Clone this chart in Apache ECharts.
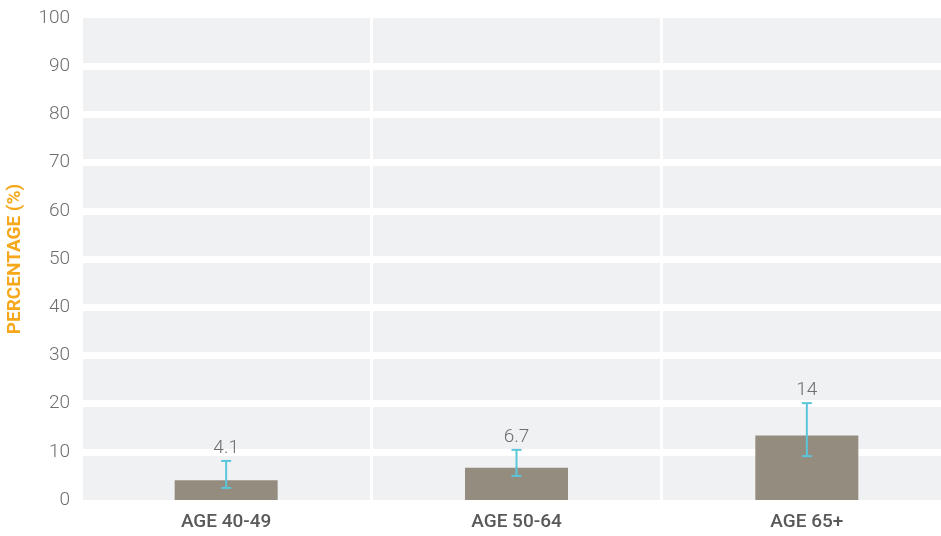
<!DOCTYPE html>
<html>
<head>
<meta charset="utf-8">
<script src="https://cdn.jsdelivr.net/npm/echarts@6/dist/echarts.min.js"></script>
<style>html,body{margin:0;padding:0;background:#fff;}#c{width:941px;height:536px;}</style>
</head>
<body>
<div id="c"></div>
<script>
var categories = ['AGE 40-49', 'AGE 50-64', 'AGE 65+'];
var values = [4.1, 6.7, 13.4];
var valueLabels = ['4.1', '6.7', '14'];
var errLow = [2.5, 5.0, 9.1];
var errHigh = [8.1, 10.4, 20.1];
var yTicks = [0, 10, 20, 30, 40, 50, 60, 70, 80, 90, 100];

var chart = echarts.init(document.getElementById('c'));
var errData = categories.map(function (c, i) { return [i, errLow[i], errHigh[i], valueLabels[i]]; });

chart.setOption({
  animation: false,
  grid: { left: 81, top: 18, width: 871, bottom: 36, show: true, backgroundColor: '#f0f1f3', borderWidth: 0, outerBoundsMode: 'none', containLabel: false },
  xAxis: {
    type: 'category', data: categories,
    axisLine: { show: false }, axisTick: { show: false },
    axisLabel: { color: '#58595b', fontSize: 19, fontFamily: 'Roboto', fontWeight: 500, margin: 13 },
    splitLine: { show: true, lineStyle: { color: '#ffffff', width: 3 } }
  },
  yAxis: {
    type: 'value', min: yTicks[0], max: yTicks[yTicks.length - 1], interval: 10,
    name: 'PERCENTAGE (%)', nameLocation: 'middle', nameGap: 56, nameRotate: 90,
    nameTextStyle: { color: '#f6a81c', fontSize: 19, fontWeight: 'bold', fontFamily: 'Roboto' },
    axisLine: { show: false }, axisTick: { show: false },
    axisLabel: { color: '#6d6e71', fontSize: 19, fontFamily: 'Roboto', fontWeight: 300, margin: 11 },
    splitLine: { show: true, showMinLine: false, showMaxLine: false, lineStyle: { color: '#ffffff', width: 7 } }
  },
  series: [
    {
      type: 'bar', data: values, barWidth: 103,
      itemStyle: { color: '#958c80' }
    },
    {
      type: 'custom', data: errData, z: 10,
      renderItem: function (params, api) {
        var x = api.value(0);
        var lo = api.coord([x, api.value(1)]);
        var hi = api.coord([x, api.value(2)]);
        var hw = 5;
        var st = { stroke: '#5bc6da', lineWidth: 2 };
        return {
          type: 'group',
          children: [
            { type: 'line', shape: { x1: hi[0], y1: hi[1], x2: lo[0], y2: lo[1] }, style: st },
            { type: 'line', shape: { x1: hi[0] - hw, y1: hi[1], x2: hi[0] + hw, y2: hi[1] }, style: st },
            { type: 'line', shape: { x1: lo[0] - hw, y1: lo[1], x2: lo[0] + hw, y2: lo[1] }, style: st },
            { type: 'text', x: hi[0], y: hi[1] - 3, style: { text: valueLabels[params.dataIndex], fill: '#6d6e71', font: '300 19px Roboto', textAlign: 'center', textVerticalAlign: 'bottom' } }
          ]
        };
      }
    }
  ]
});
</script>
</body>
</html>
